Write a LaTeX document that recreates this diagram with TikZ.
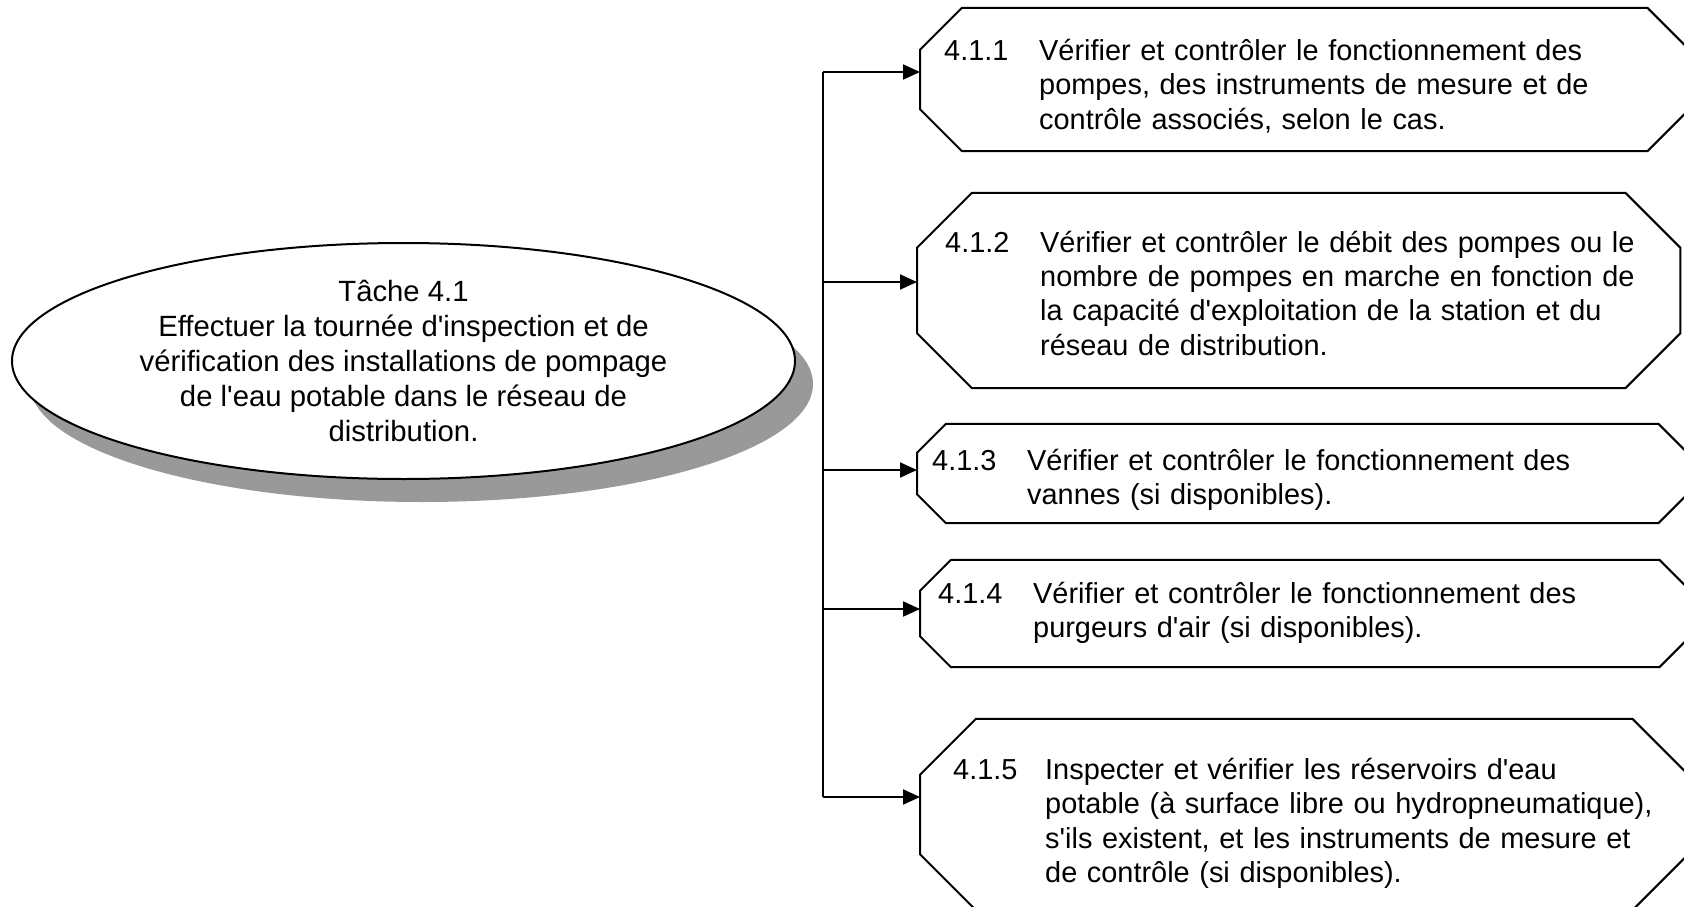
\documentclass[tikz,border=0pt]{standalone}
\usepackage{fontspec}
\setmainfont{Liberation Sans}[Ligatures=TeXOff]
\usepackage{tikz}
\usetikzlibrary{arrows.meta, shapes.geometric, shadows}

\definecolor{shadowgray}{RGB}{153,153,153}

\begin{document}
\begin{tikzpicture}[
  x=1pt, y=-1pt,
  line/.style={line width=2pt},
  arr/.style={-{Triangle[length=17pt, width=15pt]}, line width=2pt},
  task/.style={draw, ellipse, line width=2pt, fill=white, inner sep=0pt,
    minimum width=783pt, minimum height=236pt, align=center,
    font=\fontsize{29.3pt}{35pt}\selectfont,
    drop shadow={shadow xshift=18pt, shadow yshift=-23pt,
      fill=shadowgray, opacity=1}},
  subtask/.style={rectangle, anchor=west, inner ysep=0pt, align=left,
    font=\fontsize{28.9pt}{34.3pt}\selectfont},
]
  \useasboundingbox (0,0) rectangle (1684,907);
  \clip (0,0) rectangle (1684,907);

  \node[task] (t41) at (403.5,361) {Tâche 4.1\\
    Effectuer la tournée d'inspection et de\\
    vérification des installations de pompage\\
    de l'eau potable dans le réseau de\\
    distribution.};

  \node[subtask, inner xsep=24pt, text width=721pt, minimum height=143pt]
    (s1) at (920,79.5) {\raisebox{-8.6pt}[\height][\depth]{%
    \begin{tabular}{@{}p{95pt}@{}l@{}}
    4.1.1 & Vérifier et contrôler le fonctionnement des\\
          & pompes, des instruments de mesure et de\\
          & contrôle associés, selon le cas.\end{tabular}}};
  \node[subtask, inner xsep=28pt, text width=707pt, minimum height=195pt]
    (s2) at (917,290.5) {\raisebox{-6.4pt}[\height][\depth]{%
    \begin{tabular}{@{}p{95pt}@{}l@{}}
    4.1.2 & Vérifier et contrôler le débit des pompes ou le\\
          & nombre de pompes en marche en fonction de\\
          & la capacité d'exploitation de la station et du\\
          & réseau de distribution.\end{tabular}}};
  \node[subtask, inner xsep=15pt, text width=740pt, minimum height=99pt]
    (s3) at (917,473.5) {\raisebox{-7pt}[\height][\depth]{%
    \begin{tabular}{@{}p{95pt}@{}l@{}}
    4.1.3 & Vérifier et contrôler le fonctionnement des\\
          & vannes (si disponibles).\end{tabular}}};
  \node[subtask, inner xsep=18pt, text width=734pt, minimum height=107pt]
    (s4) at (920,613.5) {\begin{tabular}{@{}p{95pt}@{}l@{}}
    4.1.4 & Vérifier et contrôler le fonctionnement des\\
          & purgeurs d'air (si disponibles).\end{tabular}};
  \node[subtask, inner xsep=33pt, text width=702pt, minimum height=191pt]
    (s5) at (920,814.5) {\raisebox{-9.7pt}[\height][\depth]{%
    \begin{tabular}{@{}p{92pt}@{}l@{}}
    4.1.5 & Inspecter et vérifier les réservoirs d'eau\\
          & potable (à surface libre ou hydropneumatique),\\
          & s'ils existent, et les instruments de mesure et\\
          & de contrôle (si disponibles).\end{tabular}}};

  % cut-corner outlines
  \foreach \b/\c in {s1/42, s2/55, s3/29, s4/31, s5/56}
    \draw[line] ([xshift=\c pt]\b.north west) -- ([xshift=-\c pt]\b.north east)
      -- ([yshift=-\c pt]\b.north east) -- ([yshift=\c pt]\b.south east)
      -- ([xshift=-\c pt]\b.south east) -- ([xshift=\c pt]\b.south west)
      -- ([yshift=\c pt]\b.south west) -- ([yshift=-\c pt]\b.north west) -- cycle;

  \coordinate (j1) at (823,72);
  \coordinate (j2) at (823,282);
  \coordinate (j3) at (823,470);
  \coordinate (j4) at (823,609);
  \coordinate (j5) at (823,797);

  \draw[line] (j1) -- (j5);
  \foreach \i in {1,...,5}
    \draw[arr] (j\i) -- (j\i -| s\i.west);
\end{tikzpicture}
\end{document}
